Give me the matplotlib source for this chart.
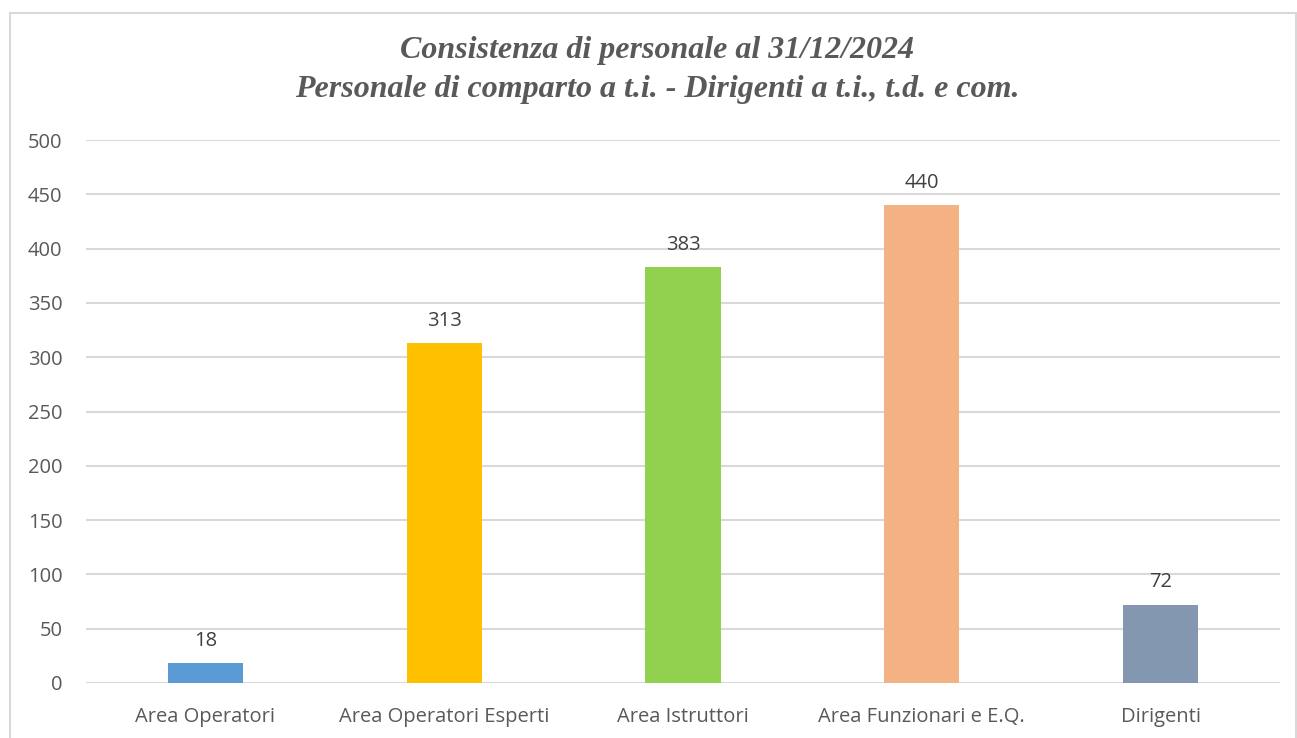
import matplotlib.pyplot as plt
import matplotlib.patches as patches

# Data
categories = ["Area Operatori", "Area Operatori Esperti", "Area Istruttori",
              "Area Funzionari e E.Q.", "Dirigenti"]
values = [18, 313, 383, 440, 72]
bar_colors = ["#5B9BD5", "#FFC000", "#92D050", "#F4B183", "#8497B0"]
yticks = [0, 50, 100, 150, 200, 250, 300, 350, 400, 450, 500]
title = "Consistenza di personale al 31/12/2024\nPersonale di comparto a t.i. - Dirigenti a t.i., t.d. e com."

TEXT = "#595959"
GRID = "#D9D9D9"

fig = plt.figure(figsize=(12.97, 7.38), dpi=100)
W, H = 1297, 738

# chart border (light gray frame, bottom is cut off)
frame = patches.Rectangle((10 / W, -0.05), (1296 - 10) / W, 1 - 13 / H + 0.05,
                          transform=fig.transFigure, fill=False,
                          edgecolor="#D9D9D9", linewidth=1.5)
fig.patches.append(frame)

ax = fig.add_axes([86 / W, (H - 683) / H, (1280 - 86) / W, (683 - 140) / H])

x = range(len(categories))
bars = ax.bar(x, values, width=0.315, color=bar_colors, zorder=3)
ax.bar_label(bars, labels=[str(v) for v in values], padding=9,
             fontsize=14.5, color="#404040", family="Open Sans")

ax.set_xlim(-0.5, len(categories) - 0.5)
ax.set_ylim(0, 500)
ax.set_yticks(yticks)
ax.set_xticks(list(x))
ax.set_xticklabels(categories)

ax.grid(axis="y", color=GRID, linewidth=1.5, zorder=0)
ax.set_axisbelow(True)
for s in ax.spines.values():
    s.set_visible(False)
ax.tick_params(axis="both", length=0, labelsize=14.5, labelcolor=TEXT)
ax.tick_params(axis="y", pad=17)
ax.tick_params(axis="x", pad=17)
for lbl in ax.get_xticklabels() + ax.get_yticklabels():
    lbl.set_family("Open Sans")

fig.text(657 / W, 1 - 70 / H, title, ha="center", va="center",
         fontsize=23, fontweight="bold", fontstyle="italic",
         family="Liberation Serif", color=TEXT, linespacing=1.45)

fig.savefig("out.png", dpi=100)
